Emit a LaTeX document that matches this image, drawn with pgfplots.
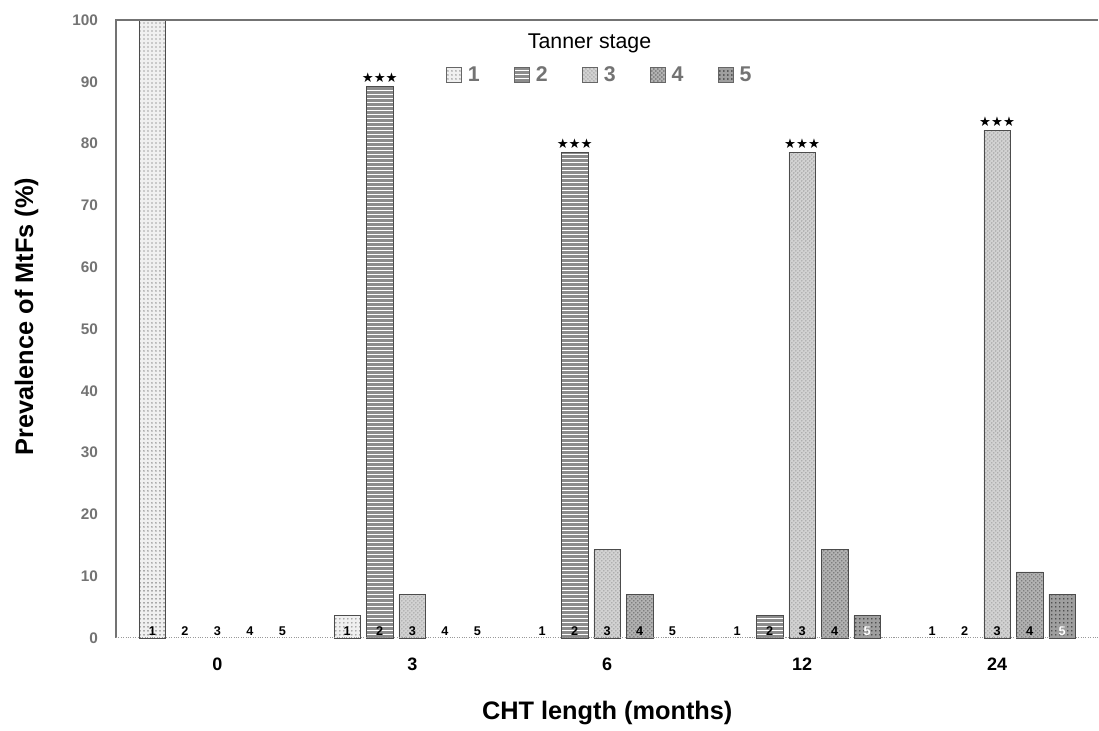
\documentclass[border=0pt]{standalone}
\usepackage{pgfplots}
\pgfplotsset{compat=1.18}
\usepackage{fontspec}
\setmainfont{Liberation Sans}
\newfontfamily\dejavu{DejaVu Sans}
\usetikzlibrary{patterns}

\newcommand{\tickfont}{\fontsize{11.5}{13}\selectfont\bfseries}
\newcommand{\catfont}{\fontsize{13.5}{16}\selectfont\bfseries}
\newcommand{\labfont}{\fontsize{19}{22}\selectfont\bfseries}
\newcommand{\legfont}{\fontsize{16}{19}\selectfont}
\newcommand{\barfont}{\fontsize{9.5}{10}\selectfont\bfseries}

% bar offsets inside each group
\def\bsh{24.4pt}

\begin{document}
\begin{tikzpicture}
\begin{axis}[
    name=ax,
    width=737pt, height=463.5pt, scale only axis,
    ybar, bar width=20pt,
    xmin=-0.52, xmax=4.52, ymin=0, ymax=100,
    xtick={0,1,2,3,4}, xticklabels={0,3,6,12,24},
    ytick={0,10,...,100},
    major tick length=0pt,
    axis line style={draw=none},
    /pgf/number format/assume math mode=true,
    xticklabel style={font=\catfont, anchor=center, yshift=-20pt},
    yticklabel style={font=\tickfont, text=black!55, xshift=-10pt},
    xlabel={CHT length (months)},
    ylabel={Prevalence of MtFs (\%)},
    xlabel style={font=\labfont, at={([yshift=-56pt]rel axis cs:0.5,0)}, anchor=center},
    ylabel style={font=\labfont, at={([xshift=-67pt]rel axis cs:0,0.52)}, anchor=center},
    clip=false,
    legend columns=5,
    legend style={draw=none, fill=none, at={(rel axis cs:0.493,0.911)}, anchor=center,
        font=\legfont\bfseries, text=black!55,
        /tikz/every even column/.append style={column sep=24pt}},
    legend image code/.code={\draw[#1, draw=black!60] (0pt,-5.5pt) rectangle (11pt,5.5pt);},
]
% stage 1
\addplot[bar shift=-2*\bsh, draw=black!70, fill=gray!12, postaction={pattern=dots, pattern color=black!70}]
    coordinates {(0,100) (1,3.6)};
\addlegendentry{\,1}
% stage 2
\addplot[bar shift=-\bsh, draw=black!70, fill=gray!90, postaction={pattern=horizontal lines, pattern color=white}]
    coordinates {(1,89.3) (2,78.6) (3,3.6)};
\addlegendentry{\,2}
% stage 3
\addplot[bar shift=0pt, draw=black!70, fill=gray!35, postaction={pattern=crosshatch dots, pattern color=black!45}]
    coordinates {(1,7.1) (2,14.3) (3,78.6) (4,82.1)};
\addlegendentry{\,3}
% stage 4
\addplot[bar shift=\bsh, draw=black!70, fill=gray!60, postaction={pattern=crosshatch dots, pattern color=black!70}]
    coordinates {(2,7.1) (3,14.3) (4,10.7)};
\addlegendentry{\,4}
% stage 5
\addplot[bar shift=2*\bsh, draw=black!70, fill=gray!75, postaction={pattern=dots, pattern color=black}]
    coordinates {(3,3.6) (4,7.1)};
\addlegendentry{\,5}

% stage numbers at the foot of every bar
\pgfplotsset{barlab/.style={forget plot, draw=none, fill=none,
    nodes near coords={#1}, nodes near coords align={center},
    every node near coord/.append style={font=\barfont, text=black, anchor=base, yshift=1.5pt}}}
\addplot[barlab=1, bar shift=-2*\bsh] coordinates {(0,0) (1,0) (2,0) (3,0) (4,0)};
\addplot[barlab=2, bar shift=-\bsh] coordinates {(0,0) (1,0) (2,0) (3,0) (4,0)};
\addplot[barlab=3, bar shift=0pt] coordinates {(0,0) (1,0) (2,0) (3,0) (4,0)};
\addplot[barlab=4, bar shift=\bsh] coordinates {(0,0) (1,0) (2,0) (3,0) (4,0)};
\addplot[barlab=5, bar shift=2*\bsh] coordinates {(0,0) (1,0) (2,0)};
\addplot[barlab=5, bar shift=2*\bsh, every node near coord/.append style={text=white}] coordinates {(3,0) (4,0)};

% significance stars
\pgfplotsset{stars/.style={forget plot, draw=none, fill=none,
    nodes near coords={\dejavu ★★★},
    every node near coord/.append style={font=\fontsize{10}{11}\selectfont, text=black, anchor=base, yshift=3pt, inner sep=0pt}}}
\addplot[stars, bar shift=-\bsh] coordinates {(1,89.3) (2,78.6)};
\addplot[stars, bar shift=0pt] coordinates {(3,78.6) (4,82.1)};

\node[font=\legfont] at (rel axis cs:0.482,0.962) {Tanner stage};
\draw[black!55, line width=0.8pt] (rel axis cs:0,0) -- (rel axis cs:0,1) -- (rel axis cs:1,1);
\draw[black!40, densely dotted, line width=0.8pt] (rel axis cs:0,0) -- (rel axis cs:1,0);
\end{axis}
\path ([xshift=-87pt,yshift=-69.75pt]ax.south west) rectangle ([yshift=15pt]ax.north east);
\end{tikzpicture}
\end{document}
